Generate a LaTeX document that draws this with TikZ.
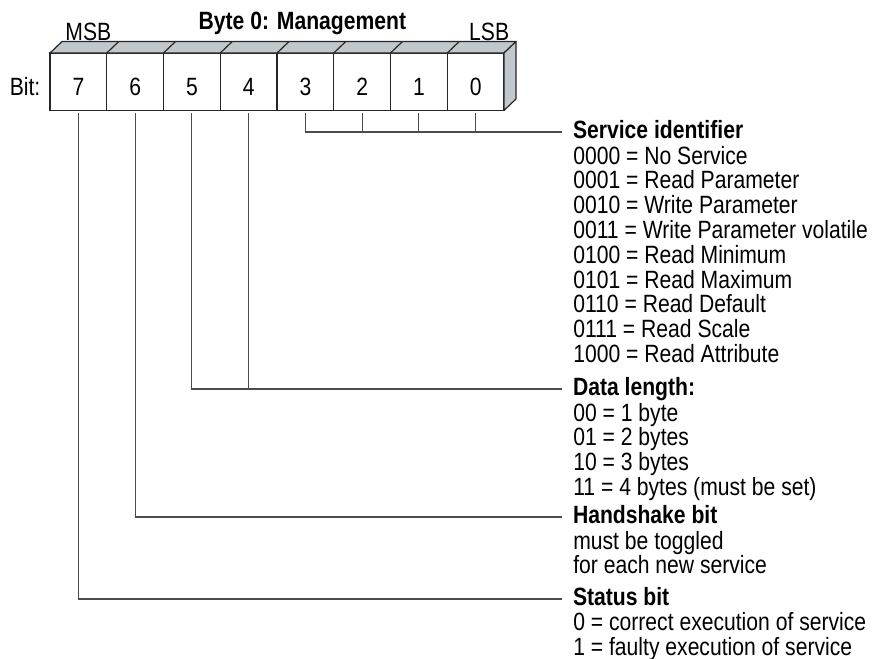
\documentclass[tikz,border=0pt]{standalone}
\usepackage{fontspec}
\setmainfont{Liberation Sans}[FakeStretch=0.845]
\usetikzlibrary{positioning}

\definecolor{facegray}{RGB}{192,200,205}
\newcommand{\diagfont}{\fontsize{18.75pt}{18.6pt}\selectfont}
\newcommand{\lineht}{\rule{0pt}{14pt}}

\tikzset{
  bitbox/.style={draw=black!85, line width=0.9pt, fill=white, minimum width=42.56pt,
    minimum height=43.1pt, inner sep=0pt, outer sep=0pt, text height=21pt, text depth=0pt},
  face/.style={fill=facegray, draw=black!85, line width=0.9pt, line join=round},
  head/.style={font=\diagfont\bfseries, inner sep=0pt, outer xsep=8.25pt,
    text height=13.4pt, text depth=3pt, anchor=west},
  items/.style={align=left, inner sep=0pt, anchor=north west},
  link/.style={draw=black!70, line width=0.8pt},
}

\begin{document}
\begin{tikzpicture}[x=0.75pt, y=-0.75pt, font=\diagfont, text=black]
    \useasboundingbox (0,0) rectangle (874,659);

    % the byte, bit 7 on the left
    \foreach \i in {0,...,7}
        \node[bitbox] (b\i) at ({50+56.75*(7.5-\i)},81.75) {\i};
    \filldraw[face] (b7.north west) -- ++(12,-11.5) -- ([shift={(12,-11.5)}]b0.north east)
        -- (b0.north east) -- cycle;
    \foreach \i in {6,...,0}
        \draw[face] (b\i.north west) -- ++(12,-11.5);
    \filldraw[face] (b0.north east) -- ++(12,-11.5) -- ([shift={(12,-11.5)}]b0.south east)
        -- (b0.south east) -- cycle;

    \node[anchor=base east] (bit) at ([xshift=-3.75pt]b7.base west) {Bit:};
    \node[anchor=base] (msb) at ([shift={(10,-13)}]b7.north) {MSB};
    \node[anchor=base] (lsb) at ([shift={(13.5,-13)}]b0.north) {LSB};
    \node[anchor=base, font=\diagfont\bfseries] (title) at ([shift={(-3,-24)}]b3.north) {Byte 0: Management};

    % Service identifier (bits 3..0)
    \node[head] (svc) at (562,132) {Service identifier};
    \node[items] (svcitems) at ([yshift=-4.6pt]svc.text) {\lineht 0000 = No Service\\
        0001 = Read Parameter\\ 0010 = Write Parameter\\ 0011 = Write Parameter volatile\\
        0100 = Read Minimum\\ 0101 = Read Maximum\\ 0110 = Read Default\\
        0111 = Read Scale\\ 1000 = Read Attribute};
    \draw[link] ([yshift=-2.25pt]b3.south) |- (svc.west);
    \foreach \i in {2,1,0}
        \draw[link] ([yshift=-2.25pt]b\i.south) -- (b\i.south |- svc.west);

    % Data length (bits 5, 4)
    \node[head] (len) at (562,389) {Data length:};
    \node[items] (lenitems) at ([yshift=-4.6pt]len.text) {\lineht 00 = 1 byte\\
        01 = 2 bytes\\ 10 = 3 bytes\\ 11 = 4 bytes (must be set)};
    \draw[link] ([yshift=-2.25pt]b5.south) |- (len.west);
    \draw[link] ([yshift=-2.25pt]b4.south) -- (b4.south |- len.west);

    % Handshake bit (bit 6)
    \node[head] (hs) at (562,517) {Handshake bit};
    \node[items] (hsitems) at ([yshift=-4.6pt]hs.text) {\lineht must be toggled\\
        for each new service};
    \draw[link] ([yshift=-2.25pt]b6.south) |- (hs.west);

    % Status bit (bit 7)
    \node[head] (st) at (562,599) {Status bit};
    \node[items] (stitems) at ([yshift=-4.2pt]st.text) {\lineht 0 = correct execution of service\\
        1 = faulty execution of service};
    \draw[link] ([yshift=-2.25pt]b7.south) |- (st.west);
\end{tikzpicture}
\end{document}
